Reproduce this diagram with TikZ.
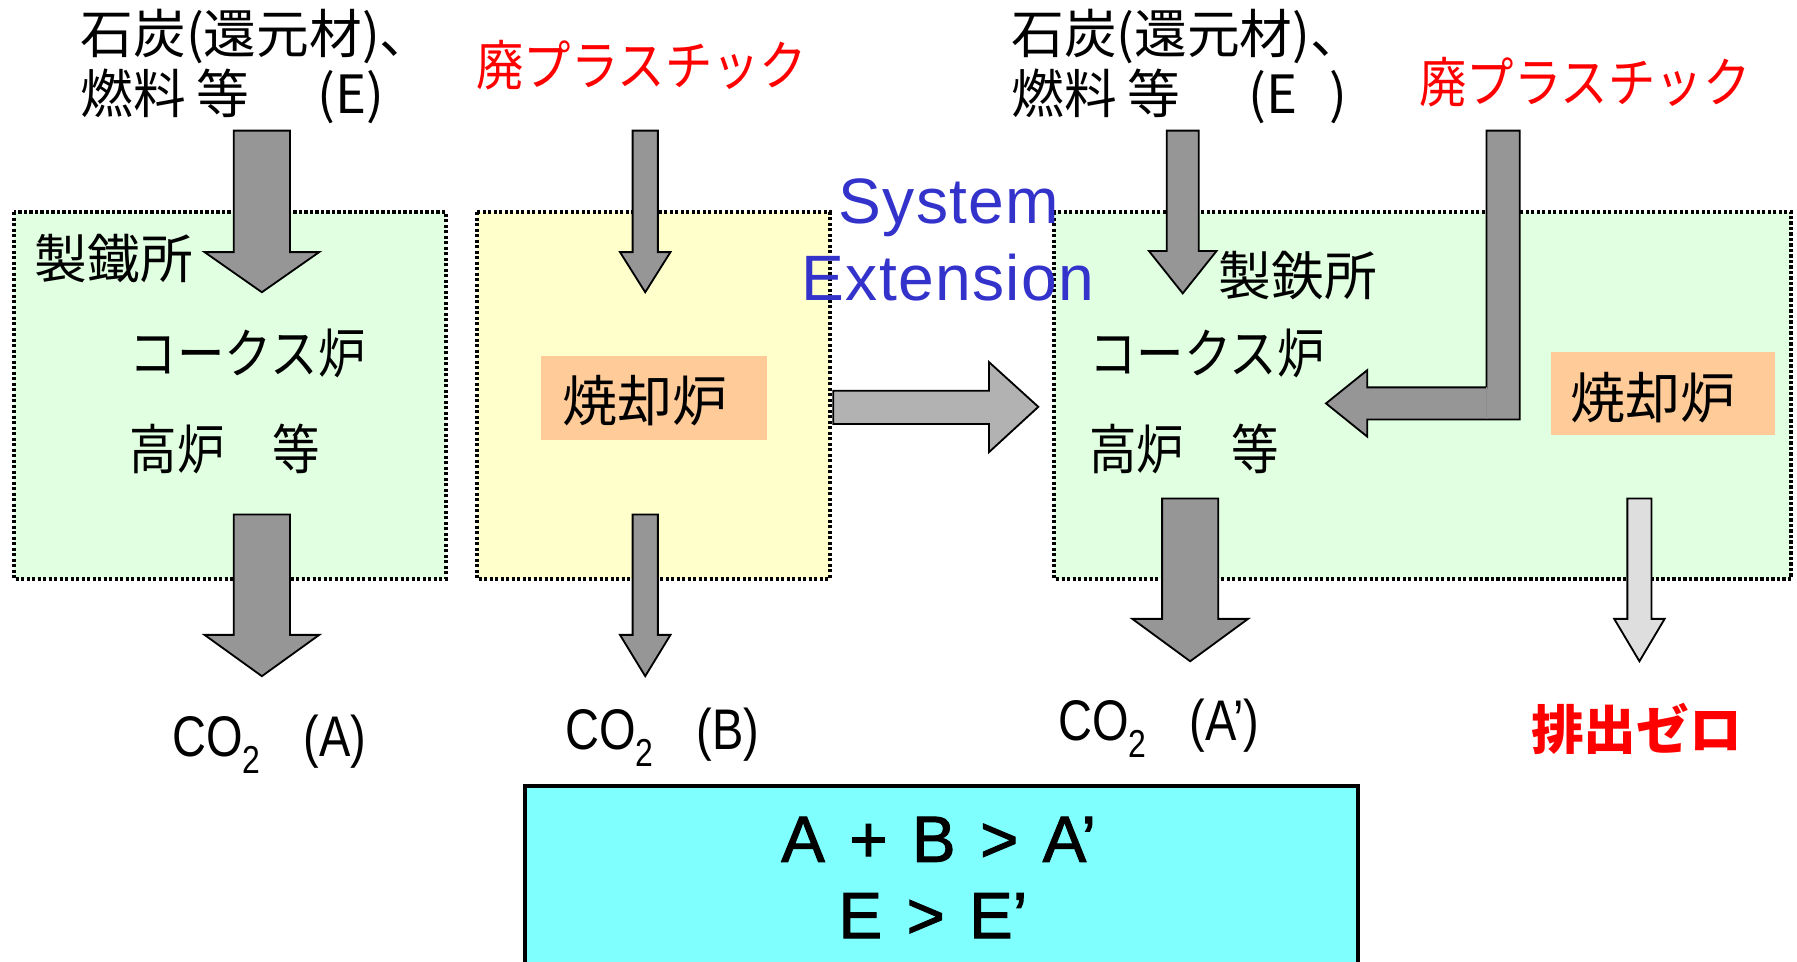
\documentclass[tikz,border=0pt]{standalone}
\usepackage{fontspec}
\setmainfont{Noto Sans CJK JP}
\newfontfamily\jpnarrow[FakeStretch=0.88]{Noto Sans CJK JP}
\newfontfamily\narrowlat[FakeStretch=0.82]{Liberation Sans}
\newfontfamily\arialfont[LetterSpace=2]{Liberation Sans}
\newfontfamily\eqfont[FakeBold=1.6,WordSpace=1.35]{Liberation Sans}
\definecolor{boxgreen}{RGB}{225,255,225}
\definecolor{boxyellow}{RGB}{255,255,204}
\definecolor{boxorange}{RGB}{255,204,153}
\definecolor{boxcyan}{RGB}{128,255,255}
\definecolor{arrgray}{RGB}{150,150,150}
\definecolor{sysgray}{RGB}{178,178,178}
\definecolor{lightgray2}{RGB}{222,222,222}
\definecolor{sysblue}{RGB}{51,51,204}
\newcommand\lowtwo[1]{\raisebox{-0.3em}{\fontsize{17}{17}\selectfont #1}}
\newcommand\dnarrow[7]{%
  \draw[#1] (#2-#6,#3) -- (#2+#6,#3) -- (#2+#6,#4) -- (#2+#7,#4) -- (#2,#5)
    -- (#2-#7,#4) -- (#2-#6,#4) -- cycle;}
\tikzset{
  jp/.style={inner sep=0pt, anchor=west, font=\fontsize{23}{27}\selectfont},
  jpn/.style={inner sep=0pt, anchor=west, font=\jpnarrow\fontsize{23.5}{27}\selectfont},
  colabel/.style={inner sep=0pt, anchor=base west, font=\narrowlat\fontsize{25}{29}\selectfont},
  dotbox/.style={draw=black, line width=1.7pt, dash pattern=on 1.4pt off 1.0pt},
  blockarr/.style={draw=black, line width=0.8pt, fill=arrgray, line join=miter},
  sysarr/.style={blockarr, fill=sysgray},
  lightarr/.style={blockarr, fill=lightgray2},
  redtext/.style={text=red},
  eqtext/.style={inner sep=0pt, anchor=base, font=\eqfont\fontsize{28.5}{33}\selectfont},
}
\begin{document}
\begin{tikzpicture}[x=0.5pt,y=-0.5pt]
\useasboundingbox (0,0) rectangle (1568,839);
\clip (0,0) rectangle (1568,839);
% boxes
\fill[boxgreen] (12,185) rectangle (389,505);
\fill[boxyellow] (416,185) rectangle (724,505);
\fill[boxgreen] (920,185) rectangle (1563,505);
\draw[dotbox] (12,185) rectangle (389,505);
\draw[dotbox] (416,185) rectangle (724,505);
\draw[dotbox] (920,185) rectangle (1563,505);
\fill[boxorange] (472,311) rectangle (669,384);
\fill[boxorange] (1353,307) rectangle (1549,380);
\draw[fill=boxcyan, line width=1.7pt] (458,686) rectangle (1185,860);

% arrows left system
\dnarrow{blockarr}{228.5}{114}{220}{255}{24.5}{50}
\dnarrow{blockarr}{228.5}{449}{554}{590}{24.5}{50}
\dnarrow{blockarr}{563}{114}{220}{255}{11}{22}
\dnarrow{blockarr}{563}{449}{554}{590}{11}{22}
% system extension arrow
\draw[sysarr] (727,341) -- (863,341) -- (863,316) -- (906,355) -- (863,394.5)
  -- (863,370) -- (727,370) -- cycle;
% right system arrows
\dnarrow{blockarr}{1032}{114}{219}{256}{14}{29.5}
\draw[blockarr] (1297,114) -- (1326,114) -- (1326,366) -- (1193,366) -- (1193,381)
  -- (1157,352) -- (1193,323) -- (1193,338) -- (1297,338) -- cycle;
\draw[line width=0.4pt, black!45] (1297,338) -- (1297,366);
\dnarrow{blockarr}{1038.5}{435}{540}{577}{24.5}{50.5}
\dnarrow{lightarr}{1430.5}{435}{540}{577}{10.5}{22}

% texts left
\node[jp] (coalL) at (70,32) {石炭(還元材)、};
\node[jp] (fuelL) at (70,84) {燃料\hspace{0.2em}等\hspace{1.3em}(E)};
\node[jpn, redtext, anchor=center] (wpL) at (560,57) {廃プラスチック};
\node[jp] (steelL) at (30,226) {製鐵所};
\node[jpn] (cokeL) at (113,308) {コークス炉};
\node[jpn] (bfL) at (113,392) {高炉　等};
\node[jp, font=\fontsize{24}{28}\selectfont] (incL) at (490,350) {焼却炉};
\node[colabel] (coA) at (150,660) {CO\lowtwo{2}\hspace{0.75em}(A)};
\node[colabel] (coB) at (493,654) {CO\lowtwo{2}\hspace{0.75em}(B)};

% system extension
\node[inner sep=0pt, anchor=base, text=sysblue, font=\arialfont\fontsize{28}{32}\selectfont] (sys1) at (828,195) {System};
\node[inner sep=0pt, anchor=base, text=sysblue, font=\arialfont\fontsize{28}{32}\selectfont] (sys2) at (827,262) {Extension};

% texts right
\node[jp] (coalR) at (882,32) {石炭(還元材)、};
\node[jp] (fuelR) at (882,84) {燃料\hspace{0.2em}等\hspace{1.3em}(E\hspace{0.6em})};
\node[jpn, redtext, anchor=center] (wpR) at (1383,72) {廃プラスチック};
\node[jp] (steelR) at (1063,240) {製鉄所};
\node[jpn] (cokeR) at (950,308) {コークス炉};
\node[jpn] (bfR) at (950,392) {高炉　等};
\node[jp, font=\fontsize{24}{28}\selectfont] (incR) at (1370,347) {焼却炉};
\node[colabel] (coAp) at (923,646) {CO\lowtwo{2}\hspace{0.75em}(A’)};
\node[jp, redtext, anchor=center, font=\bfseries\fontsize{23}{27}\selectfont] (zero) at (1428,636) {排出ゼロ};

% result box
\node[eqtext] (eq1) at (819,752) {A + B > A’};
\node[eqtext] (eq2) at (814,818.6) {E > E’};
\end{tikzpicture}
\end{document}
